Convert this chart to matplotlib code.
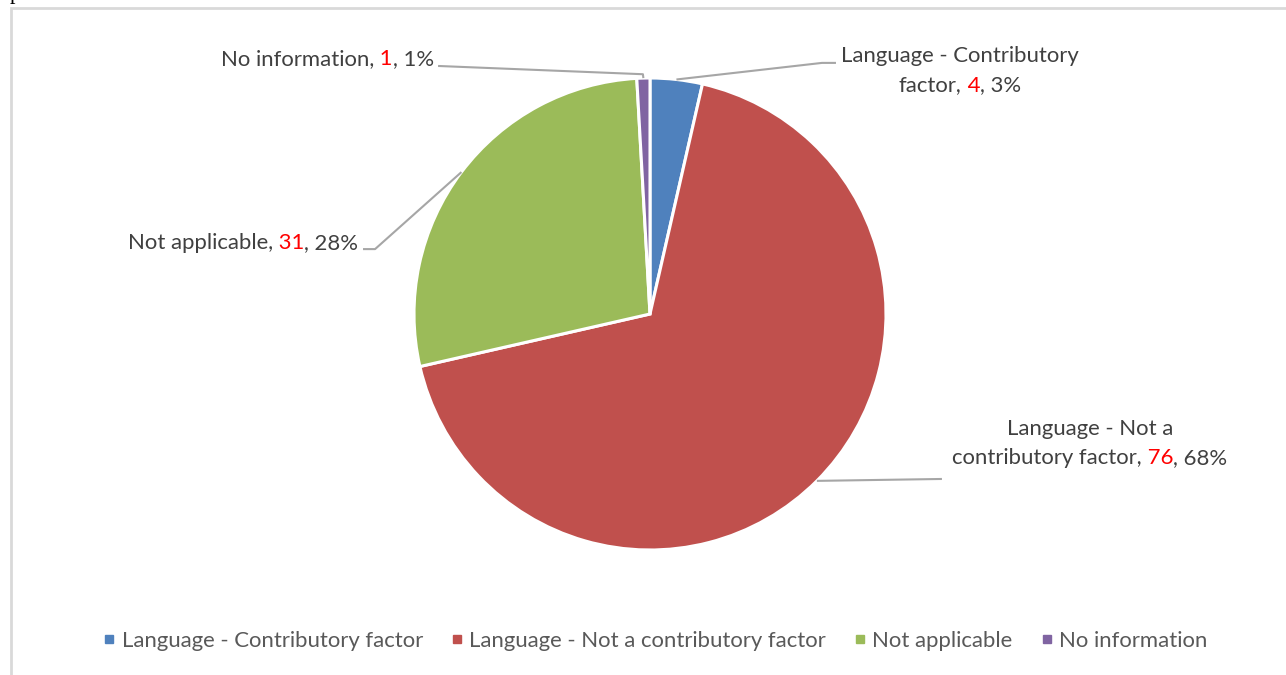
import matplotlib
matplotlib.use("Agg")
import matplotlib.pyplot as plt
import numpy as np
from matplotlib.lines import Line2D
from matplotlib.patches import Rectangle
from matplotlib.transforms import offset_copy


CATEGORIES = [
    "Language - Contributory factor",
    "Language - Not a contributory factor",
    "Not applicable",
    "No information",
]
COUNTS = [4, 76, 31, 1]
PERCENTS = ["3%", "68%", "28%", "1%"]
COLORS = ["#4F81BD", "#C0504D", "#9BBB59", "#8064A2"]

# wrapped label text (last line gets the count and percent appended)
LABEL_LINES = [
    ["Language - Contributory", "factor,"],
    ["Language - Not a", "contributory factor,"],
    ["Not applicable,"],
    ["No information,"],
]

FONT = "Lato"
FS = 15.9
TEXT_DARK = "#404040"
TEXT_LEGEND = "#595959"
LEADER = "#A6A6A6"

W, H, DPI = 1286, 675, 100
CX, CY, R = 650, 314, 236  # pie centre / radius in pixels

plt.rcParams["font.family"] = [FONT, "DejaVu Sans"]

fig = plt.figure(figsize=(W / DPI, H / DPI), dpi=DPI)
ax = fig.add_axes([(CX - R) / W, (H - CY - R) / H, 2 * R / W, 2 * R / H])

wedges, _ = ax.pie(
    COUNTS,
    colors=COLORS,
    startangle=90,
    counterclock=False,
    radius=1,
    wedgeprops=dict(edgecolor="white", linewidth=2.2),
)
# pie() pads the limits to +-1.25; pin them so the radius fills the axes
ax.set_xlim(-1, 1)
ax.set_ylim(-1, 1)
ax.axis("off")

renderer = fig.canvas.get_renderer()


def rich_line(x, y, parts, ha):
    """Draw several coloured pieces of text as one line in data coords."""
    texts, widths = [], []
    for s, c in parts:
        t = ax.text(x, y, s, color=c, fontsize=FS, va="center", ha="left", clip_on=False)
        widths.append(t.get_window_extent(renderer).width)
        texts.append(t)
    total = sum(widths)
    off = {"left": 0, "center": -total / 2, "right": -total}[ha]
    for t, w in zip(texts, widths):
        t.set_transform(offset_copy(ax.transData, fig=fig, x=off, units="dots"))
        off += w


# label anchor (x, first line y), alignment, line spacing, leader path (data units)
label_x = [1.314, 1.864, -1.237, -0.915]
label_y = [1.093, -0.487, 0.301, 1.081]
label_ha = ["center", "center", "right", "right"]
line_gap = 0.125
leader_paths = [
    [(0.788, 1.064), (0.729, 1.064)],
    [(1.237, -0.699)],
    [(-1.216, 0.275), (-1.165, 0.275)],
    [(-0.898, 1.051), (-0.030, 1.016)],
]

total = sum(COUNTS)
cum = np.cumsum([0] + COUNTS)
for i, w in enumerate(wedges):
    lines = LABEL_LINES[i]
    for j, line in enumerate(lines):
        y = label_y[i] - j * line_gap
        if j == len(lines) - 1:
            parts = [(line, TEXT_DARK), (f" {COUNTS[i]}", "#FF0000"), (f", {PERCENTS[i]}", TEXT_DARK)]
        else:
            parts = [(line, TEXT_DARK)]
        rich_line(label_x[i], y, parts, label_ha[i])

    # leader ends on the slice edge at its mid angle
    mid = (cum[i] + COUNTS[i] / 2) / total * 2 * np.pi
    edge = (np.sin(mid), np.cos(mid))
    pts = leader_paths[i] + [edge]
    xs, ys = zip(*pts)
    ax.plot(xs, ys, color=LEADER, lw=1.5, clip_on=False, solid_capstyle="butt")

handles = [Line2D([], [], marker="s", ls="", color=c, markersize=6) for c in COLORS]
fig.legend(
    handles,
    CATEGORIES,
    loc="center",
    bbox_to_anchor=(655 / W, 1 - 641 / H),
    ncol=4,
    frameon=False,
    fontsize=FS,
    handlelength=0.6,
    handletextpad=0.26,
    columnspacing=1.24,
    labelcolor=TEXT_LEGEND,
)

# chart area border
fig.add_artist(Rectangle((11 / W, -0.1), 1.0, 1.1 - 8.5 / H, transform=fig.transFigure,
                         fill=False, ec="#D9D9D9", lw=2))
fig.text(10 / W, 1 + 1 / H, "p", family="Liberation Serif", fontsize=16, va="baseline")

fig.savefig("out.png", dpi=DPI)
